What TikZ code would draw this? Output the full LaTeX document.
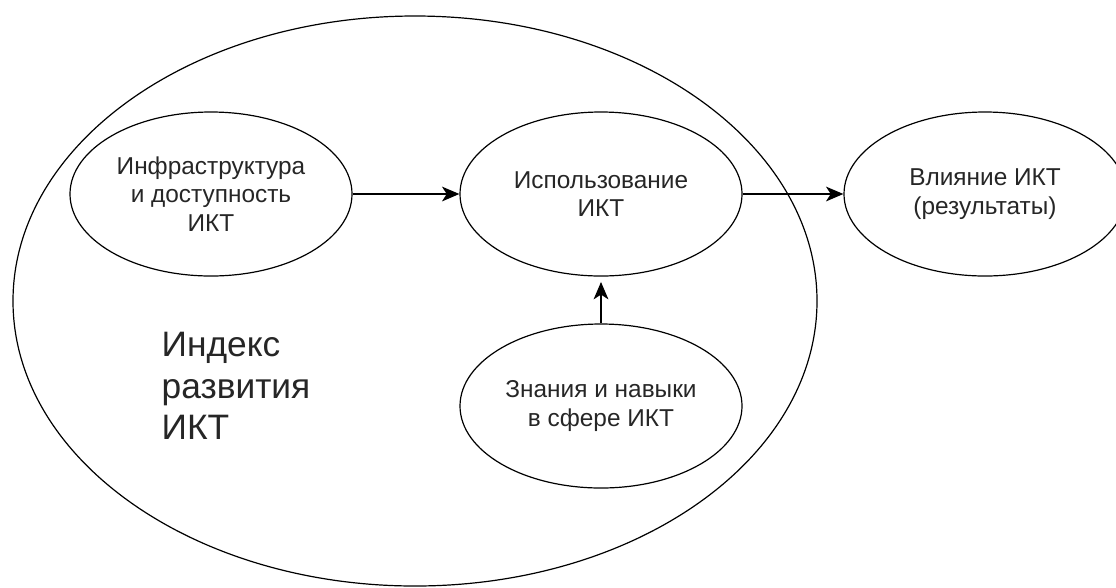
\documentclass[tikz,border=0pt]{standalone}
\usepackage{fontspec}
\setmainfont{Liberation Sans}
\usetikzlibrary{arrows.meta,shapes.geometric}

\begin{document}
\begin{tikzpicture}[x=0.75pt, y=-0.75pt,
	blob/.style={draw, ellipse, line width=0.9pt, inner sep=0pt, minimum width=211.5pt, minimum height=123pt, align=center, text=black!85, font=\fontsize{18.3}{21.4}\selectfont},
	arr/.style={-{Stealth[length=13pt, width=11pt, inset=3.5pt]}, line width=1.5pt}]
	\useasboundingbox (0,0) rectangle (1116,587);
	\node[draw, ellipse, line width=0.9pt, inner sep=0pt, minimum width=603pt, minimum height=427.5pt] (idx) at (415,301) {};
	\node[blob] (infra) at (211,194) {Инфраструктура\\и доступность\\ИКТ};
	\node[blob] (usage) at (601,194) {Использование\\ИКТ};
	\node[blob] (impact) at (985,194) {Влияние ИКТ\\(результаты)};
	\node[blob] (skills) at (601,406) {Знания и навыки\\в сфере ИКТ};
	\node[anchor=west, align=left, text=black!85, font=\fontsize{26.5}{31}\selectfont] (idxlabel) at (157,386) {Индекс\\развития\\ИКТ};
	\draw[arr] (infra) -- (usage);
	\draw[arr] (usage) -- (impact);
	\draw[arr, shorten >=4pt] (skills) -- (usage);
\end{tikzpicture}
\end{document}
